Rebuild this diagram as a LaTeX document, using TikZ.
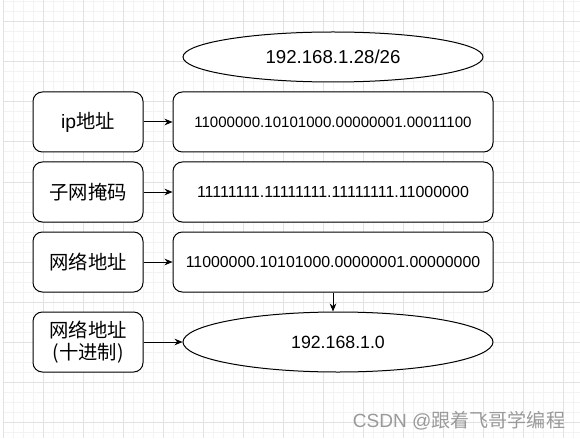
\documentclass[tikz,border=0pt]{standalone}
\usepackage{fontspec}
\setmainfont{Liberation Sans}
\newfontfamily\cjk{Noto Sans CJK SC}
\usetikzlibrary{shapes.geometric,arrows.meta}
\definecolor{majorgrid}{HTML}{E2E2E2}
\definecolor{minorgrid}{HTML}{F3F3F3}
\definecolor{wmark}{HTML}{9A9A9A}
\tikzset{
  labelbox/.style={draw, rounded corners=7pt, line width=0.75pt, minimum width=82.5pt, minimum height=45pt, align=center, font=\fontsize{14.5}{17}\selectfont\cjk, fill=white},
  bitsbox/.style={draw, rounded corners=7pt, line width=0.75pt, minimum width=240pt, minimum height=45pt, fill=white, font=\fontsize{11.3}{13}\selectfont},
  addr/.style={draw, ellipse, line width=0.75pt, inner sep=0pt, fill=white, font=\fontsize{13.3}{15}\selectfont},
  link/.style={line width=0.75pt, -{Stealth[length=6pt,width=5pt]}}
}

\begin{document}
\begin{tikzpicture}[x=0.75pt,y=-0.75pt]
\useasboundingbox (0,0) rectangle (580,438);
\fill [white] (0,0) rectangle (580,438);
% background grid
\foreach \x in {13,23,...,573} \draw [minorgrid, line width=0.75pt] (\x,0) -- (\x,438);
\foreach \y in {2,12,...,432} \draw [minorgrid, line width=0.75pt] (3,\y) -- (580,\y);
\foreach \x in {3,43,...,563} \draw [majorgrid, line width=0.75pt] (\x,0) -- (\x,438);
\foreach \y in {22,62,...,422} \draw [majorgrid, line width=0.75pt] (3,\y) -- (580,\y);

\node [addr, minimum width=225pt, minimum height=37.5pt, font=\fontsize{14}{16}\selectfont] (cidr) at (333,57) {192.168.1.28/26};

\node [labelbox] (ip) at (88,122) {{\fontspec{Liberation Sans}ip}地址};
\node [labelbox] (mask) at (88,192) {子网掩码};
\node [labelbox] (net) at (88,262) {网络地址};
\node [labelbox] (netdec) at (88,342) {网络地址\\(十进制)};

\node [bitsbox] (ipbits) at (333,122) {11000000.10101000.00000001.00011100};
\node [bitsbox, font=\fontsize{12}{14}\selectfont] (maskbits) at (333,192) {11111111.11111111.11111111.11000000};
\node [bitsbox, font=\fontsize{11.9}{14}\selectfont] (netbits) at (333,262) {11000000.10101000.00000001.00000000};

\node [addr, minimum width=232.5pt, minimum height=45pt] (netaddr) at (338,342) {192.168.1.0};

\draw [link] (ip) -- (ipbits);
\draw [link] (mask) -- (maskbits);
\draw [link] (net) -- (netbits);
\draw [link] (netbits.south) -- (netbits.south |- netaddr.north);
\draw [link] (netdec) -- (netaddr);

\node [wmark, font=\fontsize{14.3}{16}\selectfont] (mark) at (459,421) {CSDN @{\cjk 跟着飞哥学编程}};
\end{tikzpicture}
\end{document}
